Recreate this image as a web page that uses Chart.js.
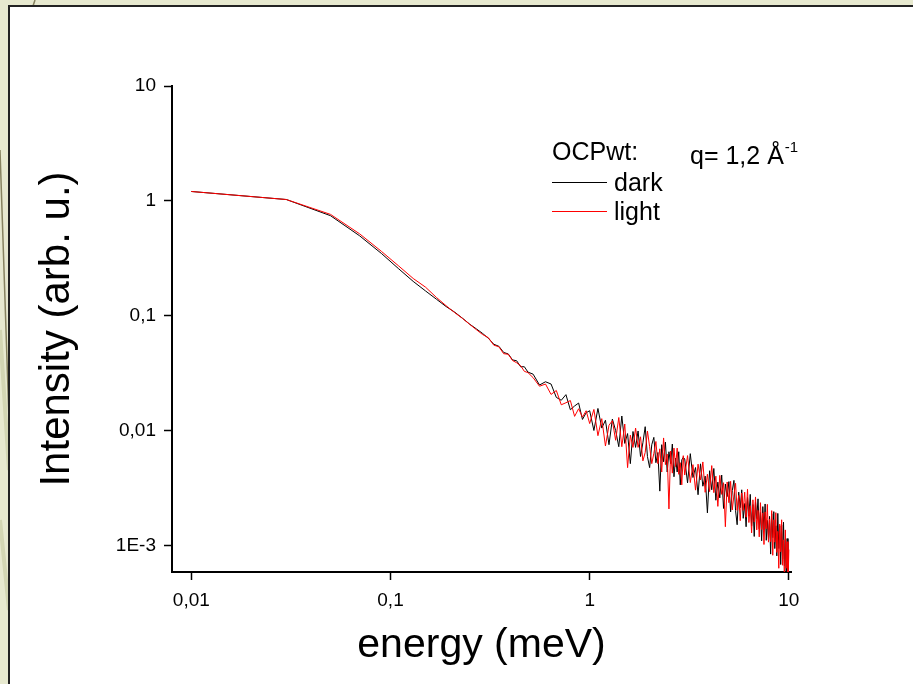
<!DOCTYPE html>
<html>
<head>
<meta charset="utf-8">
<script src="https://cdn.jsdelivr.net/npm/chart.js@4.4.1/dist/chart.umd.min.js"></script>
<style>
  html, body { margin: 0; padding: 0; background: #e7e9cf; }
  canvas { display: block; }
</style>
</head>
<body>
<canvas id="chart" width="913" height="684"></canvas>
<script>
// energy transfer (meV)
var energy = [
  0.01, 0.03, 0.05, 0.07, 0.09, 0.11, 0.13, 0.15, 0.17, 0.19, 0.21, 0.23, 0.25,
  0.27, 0.29, 0.31, 0.33, 0.35, 0.37, 0.39, 0.41, 0.43, 0.45, 0.47, 0.49,
  0.52, 0.56, 0.6, 0.64, 0.68, 0.72, 0.76, 0.8, 0.84, 0.88, 0.92, 0.96,
  1, 1.05, 1.1, 1.15, 1.2, 1.25, 1.3, 1.35, 1.4, 1.45, 1.5, 1.55, 1.6, 1.65, 1.7, 1.75, 1.8, 1.85, 1.9, 1.95,
  2, 2.05, 2.1, 2.15, 2.2, 2.25, 2.3, 2.35, 2.4, 2.45, 2.5, 2.55, 2.6, 2.65, 2.7, 2.75, 2.8, 2.85, 2.9, 2.95,
  3, 3.1, 3.2, 3.3, 3.4, 3.5, 3.6, 3.7, 3.8, 3.9,
  4, 4.1, 4.2, 4.3, 4.4, 4.5, 4.6, 4.7, 4.8, 4.9,
  5, 5.1, 5.2, 5.3, 5.4, 5.5, 5.6, 5.7, 5.8, 5.9,
  6, 6.1, 6.2, 6.3, 6.4, 6.5, 6.6, 6.7, 6.8, 6.9,
  7, 7.1, 7.2, 7.3, 7.4, 7.5, 7.6, 7.7, 7.8, 7.9,
  8, 8.1, 8.2, 8.3, 8.4, 8.5, 8.6, 8.7, 8.8, 8.9,
  9, 9.1, 9.2, 9.3, 9.4, 9.5, 9.6, 9.7, 9.8, 9.9, 10
];

// intensity (arb. u.), dark state
var dark = [
  1.21, 1.03, 0.745, 0.498, 0.350, 0.257, 0.200, 0.165, 0.140, 0.121, 0.108, 0.0955, 0.0848,
  0.0772, 0.0705, 0.0640, 0.0568, 0.0545, 0.0482, 0.0468, 0.0415, 0.0408, 0.0362, 0.0362, 0.0325,
  0.0312, 0.0251, 0.0268, 0.0256, 0.0196, 0.0185, 0.0207, 0.0153, 0.0165, 0.0175, 0.0126, 0.0144,
  0.0150, 0.0101, 0.0157, 0.0106, 0.0124, 0.0076, 0.0127, 0.0101, 0.0073, 0.0135, 0.0078, 0.0095, 0.0052, 0.0099, 0.0072, 0.0100, 0.0060, 0.0079, 0.0109, 0.0060,
  0.0048, 0.0076, 0.0088, 0.0053, 0.0065, 0.0030, 0.0076, 0.0054, 0.0080, 0.0044, 0.0066, 0.0052, 0.0077, 0.0040, 0.0058, 0.0044, 0.0066, 0.0034, 0.0056, 0.0059,
  0.00571, 0.00354, 0.00635, 0.00394, 0.00481, 0.00279, 0.00518, 0.00331, 0.00405, 0.00194,
  0.00451, 0.00308, 0.00472, 0.00250, 0.00359, 0.00262, 0.00414, 0.00212, 0.00346, 0.00269,
  0.00363, 0.00198, 0.00304, 0.00372, 0.00203, 0.00153, 0.00294, 0.00215, 0.00308, 0.00174,
  0.00234, 0.00147, 0.00265, 0.00182, 0.00281, 0.00149, 0.00229, 0.00121, 0.00242, 0.00173,
  0.00257, 0.00141, 0.00196, 0.00111, 0.00220, 0.00138, 0.00232, 0.00112, 0.00167, 0.00114,
  0.00181, 0.00085, 0.00191, 0.00118, 0.00199, 0.00095, 0.00150, 0.00082, 0.00192, 0.00095,
  0.00150, 0.00069, 0.00153, 0.00077, 0.00161, 0.00067, 0.00114, 0.00051, 0.00116, 0.00062, 0.00049
];

// intensity (arb. u.), light state
var light = [
  1.21, 1.03, 0.765, 0.518, 0.365, 0.272, 0.212, 0.178, 0.145, 0.123, 0.107, 0.0952, 0.0845,
  0.0760, 0.0690, 0.0648, 0.0558, 0.0540, 0.0470, 0.0465, 0.0410, 0.0392, 0.0370, 0.0330, 0.0322,
  0.0291, 0.0245, 0.0256, 0.0208, 0.0225, 0.0169, 0.0176, 0.0184, 0.0134, 0.0156, 0.0132, 0.0150,
  0.0116, 0.0154, 0.0091, 0.0128, 0.0074, 0.0112, 0.0123, 0.0083, 0.0131, 0.0073, 0.0115, 0.0048, 0.0092, 0.0072, 0.0106, 0.0072, 0.0089, 0.0055, 0.0065, 0.0100,
  0.0073, 0.0052, 0.0064, 0.0081, 0.0052, 0.0070, 0.0044, 0.0087, 0.0051, 0.0063, 0.0021, 0.0067, 0.0043, 0.0071, 0.0049, 0.0071, 0.0042, 0.0053, 0.0034, 0.0061,
  0.00414, 0.00611, 0.00356, 0.00510, 0.00306, 0.00515, 0.00375, 0.00538, 0.00293, 0.00421,
  0.00297, 0.00500, 0.00291, 0.00405, 0.00221, 0.00411, 0.00281, 0.00355, 0.00147, 0.00360,
  0.00238, 0.00365, 0.00206, 0.00278, 0.00351, 0.00204, 0.00275, 0.00166, 0.00289, 0.00204,
  0.00294, 0.00178, 0.00311, 0.00160, 0.00224, 0.00130, 0.00252, 0.00162, 0.00267, 0.00138,
  0.00204, 0.00120, 0.00238, 0.00139, 0.00194, 0.00103, 0.00198, 0.00141, 0.00230, 0.00108,
  0.00171, 0.00109, 0.00203, 0.00083, 0.00169, 0.00108, 0.00195, 0.00088, 0.00134, 0.00064,
  0.00155, 0.00089, 0.00169, 0.00068, 0.00113, 0.00048, 0.00138, 0.00064, 0.00109, 0.00046, 0.00093
];

var xTicks = [0.01, 0.1, 1, 10];
var xTickLabels = ["0,01", "0,1", "1", "10"];
var yTicks = [0.001, 0.01, 0.1, 1, 10];
var yTickLabels = ["1E-3", "0,01", "0,1", "1", "10"];

var seriesNames = ["dark", "light"];
var seriesColors = ["#000000", "#ff0000"];
var legendTitle = "OCPwt:";
var note = "q= 1,2 Å";
var noteSup = "-1";
var xTitle = "energy (meV)";
var yTitle = "Intensity (arb. u.)";

var family = "'Liberation Sans', Arial, sans-serif";

// slide background + white frame
var frame = {
  id: "frame",
  beforeDraw: function (chart) {
    var ctx = chart.ctx;
    ctx.save();
    ctx.fillStyle = "#e7e9cf";
    ctx.fillRect(0, 0, chart.width, chart.height);
    ctx.strokeStyle = "#d3d6b3";
    ctx.lineWidth = 4;
    ctx.beginPath();
    ctx.moveTo(0, 330); ctx.lineTo(9, 470);
    ctx.moveTo(0, 520); ctx.lineTo(9, 610);
    ctx.stroke();
    ctx.strokeStyle = "#86825f";
    ctx.lineWidth = 1.5;
    ctx.beginPath();
    ctx.moveTo(0, 150); ctx.lineTo(9, 420);
    ctx.moveTo(33, 6); ctx.lineTo(35, 0);
    ctx.stroke();
    ctx.fillStyle = "#ffffff";
    ctx.fillRect(9, 6, chart.width - 9, chart.height - 6);
    ctx.strokeStyle = "#222222";
    ctx.lineWidth = 2;
    ctx.beginPath();
    ctx.moveTo(9, chart.height);
    ctx.lineTo(9, 6);
    ctx.lineTo(chart.width, 6);
    ctx.stroke();
    ctx.restore();
  }
};

// legend block drawn inside the plot, like the original
var legendBox = {
  id: "legendBox",
  afterDraw: function (chart) {
    var ctx = chart.ctx;
    ctx.save();
    ctx.font = "25px " + family;
    ctx.fillStyle = "#000";
    ctx.textBaseline = "alphabetic";
    ctx.fillText(legendTitle, 552, 160);
    chart.data.datasets.forEach(function (ds, i) {
      var y = 182 + i * 29;
      ctx.strokeStyle = ds.borderColor;
      ctx.lineWidth = 1;
      ctx.beginPath();
      ctx.moveTo(552, y + 0.5);
      ctx.lineTo(607, y + 0.5);
      ctx.stroke();
      ctx.fillText(ds.label, 614, y + 9);
    });
    ctx.fillText(note, 690, 164);
    var w = ctx.measureText(note).width;
    ctx.font = "15px " + family;
    ctx.fillText(noteSup, 690 + w + 1, 152);
    ctx.restore();
  }
};

function axisTicks(values) {
  return function (scale) {
    scale.ticks = values.map(function (v) { return { value: v }; });
  };
}

var datasets = [dark, light].map(function (arr, k) {
  return {
    label: seriesNames[k],
    data: energy.map(function (e, i) { return { x: e, y: arr[i] }; }),
    borderColor: seriesColors[k],
    borderWidth: 1,
    pointRadius: 0,
    fill: false,
    tension: 0,
    order: 1 - k
  };
});

new Chart(document.getElementById("chart"), {
  type: "line",
  data: { datasets: datasets },
  options: {
    responsive: false,
    animation: false,
    devicePixelRatio: 1,
    layout: { padding: { left: 0, top: 86, right: 122, bottom: 0 } },
    plugins: { legend: { display: false }, tooltip: { enabled: false } },
    scales: {
      x: {
        type: "logarithmic",
        min: 0.008,
        max: 10.25,
        afterBuildTicks: axisTicks(xTicks),
        afterFit: function (s) { s.height = 112; },
        ticks: {
          autoSkip: false, maxRotation: 0, padding: 9, color: "#000",
          font: { size: 19, family: family },
          callback: function (v) { var k = xTicks.indexOf(v); return k < 0 ? "" : xTickLabels[k]; }
        },
        grid: { drawOnChartArea: false, drawTicks: true, tickLength: 8, tickWidth: 1.5, tickColor: "#000" },
        border: { display: true, color: "#000", width: 2 },
        title: { display: true, text: xTitle, color: "#000", font: { size: 41, family: family }, padding: { top: 0, bottom: 14 } }
      },
      y: {
        type: "logarithmic",
        min: 0.000594,
        max: 10,
        afterBuildTicks: axisTicks(yTicks),
        afterFit: function (s) { s.width = 172; },
        ticks: {
          autoSkip: false, padding: 8, color: "#000",
          font: { size: 19, family: family },
          callback: function (v) { var k = yTicks.indexOf(v); return k < 0 ? "" : yTickLabels[k]; }
        },
        grid: { drawOnChartArea: false, drawTicks: true, tickLength: 8, tickWidth: 1.5, tickColor: "#000" },
        border: { display: true, color: "#000", width: 2 },
        title: { display: true, text: yTitle, color: "#000", font: { size: 42, family: family }, padding: { top: 32, bottom: 0 } }
      }
    }
  },
  plugins: [frame, legendBox]
});
</script>
</body>
</html>
